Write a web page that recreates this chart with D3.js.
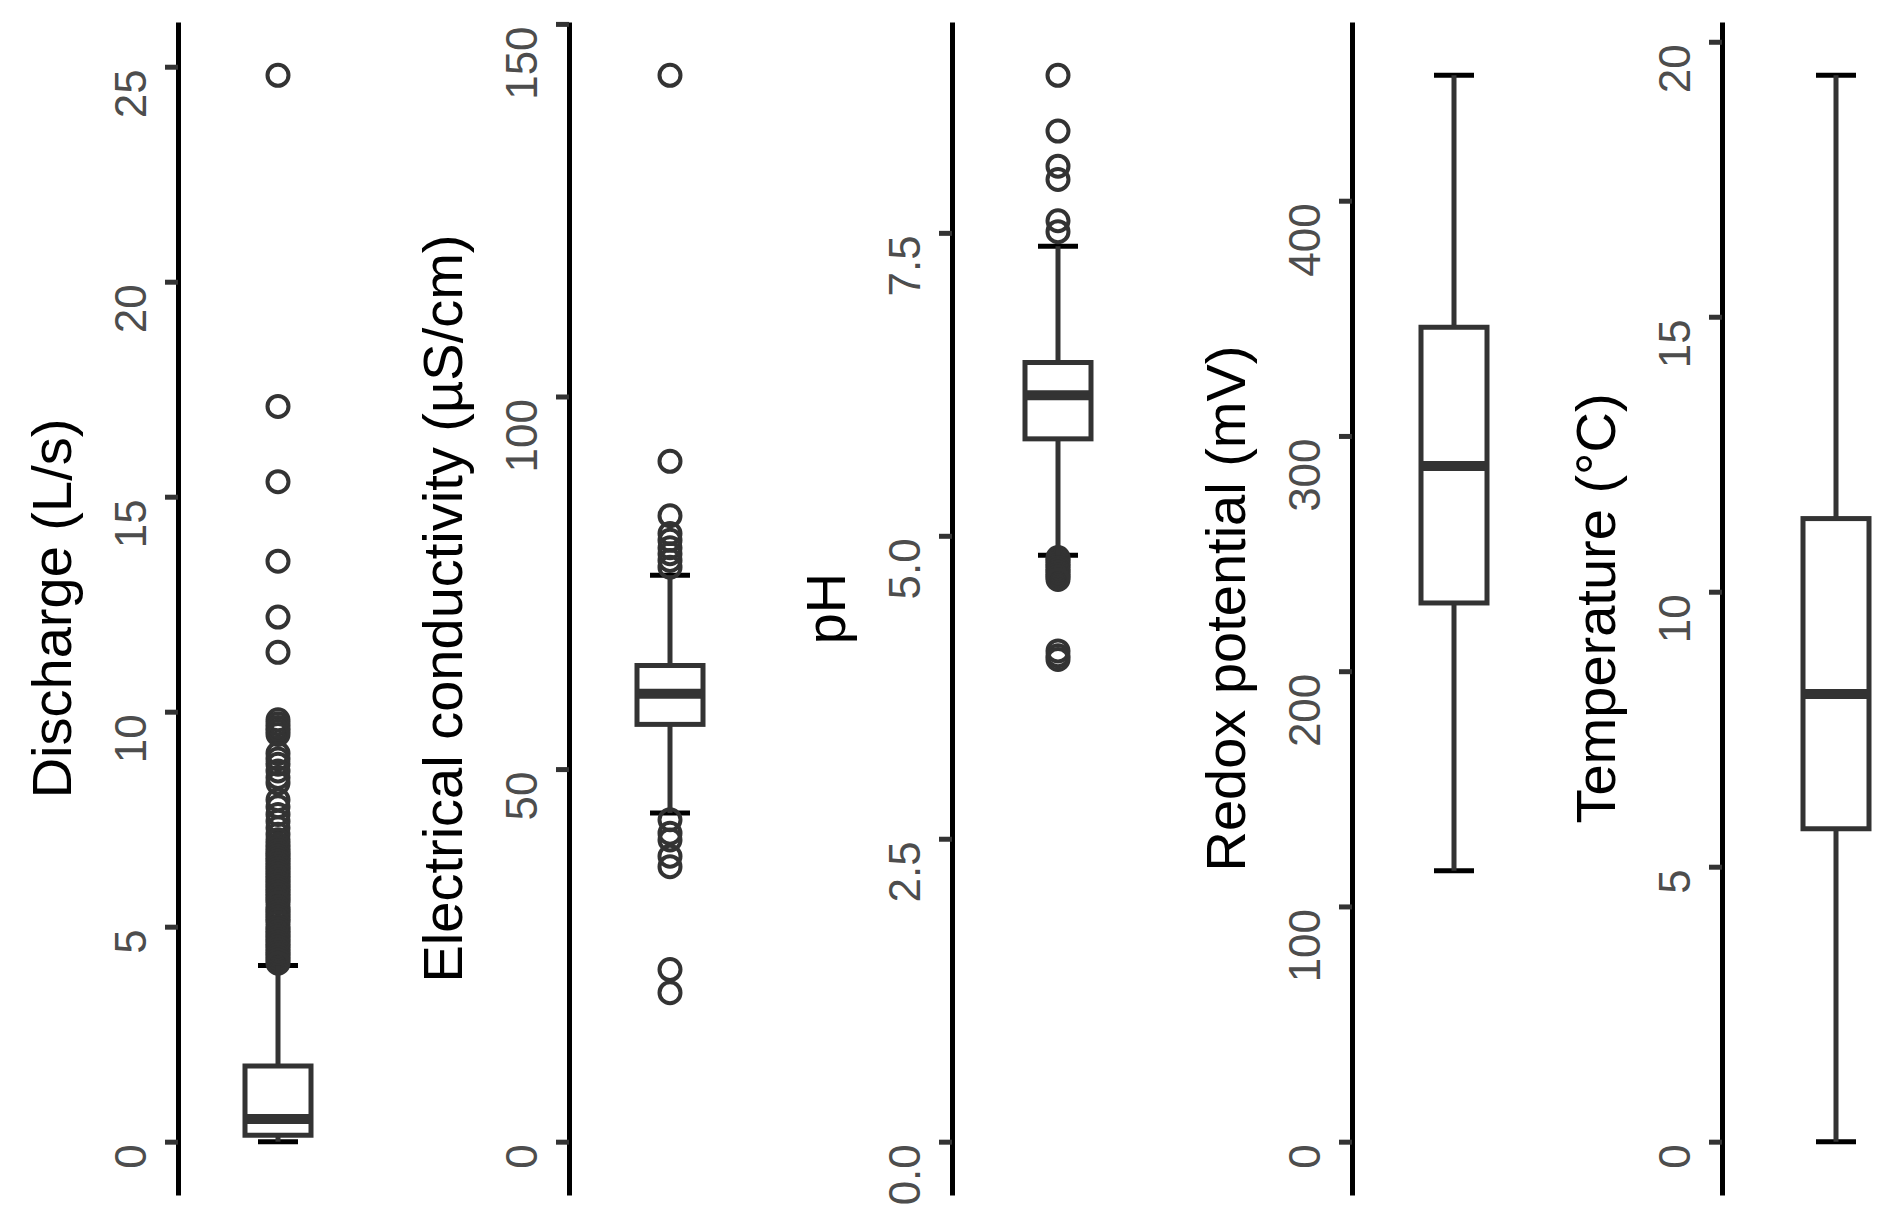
<!DOCTYPE html>
<html>
<head>
<meta charset="utf-8">
<script src="https://cdn.jsdelivr.net/npm/d3@7"></script>
<style>
  body { margin: 0; background: #fff; }
  svg { display: block; font-family: "Liberation Sans", Arial, sans-serif; }
</style>
</head>
<body>
<div id="chart"></div>
<script>
var width = 1892,
    height = 1222,
    top_y = 22,
    bottom_y = 1195;

// one box per panel
var titles = ["Discharge (L/s)", "Electrical conductivity (µS/cm)", "pH", "Redox potential (mV)", "Temperature (°C)"];
var lower_whisker = [0.0, 44.1, 4.84, 115.2, 0.0];
var q1 = [0.15, 56.0, 5.80, 229.0, 5.69];
var median = [0.53, 60.1, 6.16, 287.2, 8.14];
var q3 = [1.76, 63.9, 6.43, 346.2, 11.33];
var upper_whisker = [4.1, 76.0, 7.39, 453.3, 19.39];

var discharge_outliers = [24.8, 17.1, 15.35, 13.5, 12.2, 11.38,
    9.81, 9.72, 9.63, 9.55, 9.47, 9.03, 8.9, 8.78, 8.62, 8.47, 8.34,
    7.95, 7.79, 7.61, 7.45, 7.3, 7.15, 7.02, 6.92, 6.84,
    6.76, 6.7, 6.64, 6.58, 6.52, 6.46, 6.4, 6.34, 6.28, 6.22, 6.16, 6.1, 6.04,
    5.98, 5.92, 5.86, 5.8, 5.74, 5.68, 5.62, 5.56, 5.46, 5.4, 5.34, 5.28, 5.22, 5.16,
    5.1, 5.0, 4.94, 4.88, 4.82, 4.76, 4.7, 4.64, 4.58, 4.52, 4.46, 4.4, 4.34,
    4.28, 4.22, 4.15];
var conductivity_outliers = [143.1, 91.3, 84.0, 81.6, 80.7, 79.7, 78.9, 78.0, 77.1,
    43.2, 41.4, 40.5, 38.3, 36.9, 23.1, 20.0];
var ph_outliers = [8.80, 8.34, 8.05, 7.94, 7.60, 7.51,
    4.82, 4.80, 4.78, 4.76, 4.74, 4.72, 4.70, 4.68, 4.66, 4.64, 4.05, 4.01, 3.98];
var redox_outliers = [];
var temperature_outliers = [];
var outliers = [discharge_outliers, conductivity_outliers, ph_outliers, redox_outliers, temperature_outliers];

var tick_values = [[0, 5, 10, 15, 20, 25], [0, 50, 100, 150], [0, 2.5, 5, 7.5], [0, 100, 200, 300, 400], [0, 5, 10, 15, 20]];
var tick_formats = ["d", "d", ".1f", "d", "d"];

// layout
var axis_x = [178, 569, 952, 1352, 1722];
var box_x = [278, 670, 1058, 1454, 1836];
var box_w = 66,
    cap_w = 40;

var svg = d3.select("#chart").append("svg")
    .attr("width", width)
    .attr("height", height);

svg.append("rect")
    .attr("width", width)
    .attr("height", height)
    .attr("fill", "#fff");

titles.forEach(function (title, i) {
    var all = outliers[i].concat([lower_whisker[i], upper_whisker[i], 0]);
    var lo = d3.min(all), hi = d3.max(all);
    var pad = (hi - lo) * 0.05;
    var y = d3.scaleLinear()
        .domain([lo - pad, hi + pad])
        .range([bottom_y, top_y]);

    var g = svg.append("g");

    // axis
    var ax = g.append("g")
        .attr("transform", "translate(" + axis_x[i] + ",0)")
        .call(d3.axisLeft(y)
            .tickValues(tick_values[i])
            .tickFormat(d3.format(tick_formats[i]))
            .tickSize(13)
            .tickSizeOuter(0));
    ax.select(".domain")
        .attr("stroke", "#000")
        .attr("stroke-width", 5);
    ax.selectAll(".tick line")
        .attr("stroke", "#333")
        .attr("stroke-width", 5);
    ax.selectAll(".tick text")
        .attr("x", null)
        .attr("dy", null)
        .attr("transform", "translate(-32,2) rotate(-90)")
        .attr("text-anchor", "end")
        .attr("fill", "#4d4d4d")
        .attr("font-size", 44)
        .attr("font-family", "Liberation Sans, Arial, sans-serif");

    // title
    g.append("text")
        .attr("transform", "translate(" + (axis_x[i] - 107) + "," + ((top_y + bottom_y) / 2) + ") rotate(-90)")
        .attr("text-anchor", "middle")
        .attr("font-size", 56)
        .attr("fill", "#000")
        .text(title);

    var cx = box_x[i];

    // whisker caps
    [lower_whisker[i], upper_whisker[i]].forEach(function (v) {
        g.append("line")
            .attr("x1", cx - cap_w / 2)
            .attr("x2", cx + cap_w / 2)
            .attr("y1", y(v))
            .attr("y2", y(v))
            .attr("stroke", "#000")
            .attr("stroke-width", 5);
    });

    // outliers
    g.selectAll("circle.out")
        .data(outliers[i])
        .enter()
        .append("circle")
        .attr("class", "out")
        .attr("cx", cx)
        .attr("cy", function (d) { return y(d); })
        .attr("r", 10.5)
        .attr("fill", "none")
        .attr("stroke", "#333")
        .attr("stroke-width", 4);

    // whiskers
    g.append("line")
        .attr("x1", cx).attr("x2", cx)
        .attr("y1", y(q3[i])).attr("y2", y(upper_whisker[i]))
        .attr("stroke", "#333").attr("stroke-width", 5);
    g.append("line")
        .attr("x1", cx).attr("x2", cx)
        .attr("y1", y(q1[i])).attr("y2", y(lower_whisker[i]))
        .attr("stroke", "#333").attr("stroke-width", 5);

    // box
    g.append("rect")
        .attr("x", cx - box_w / 2)
        .attr("width", box_w)
        .attr("y", y(q3[i]))
        .attr("height", y(q1[i]) - y(q3[i]))
        .attr("fill", "#fff")
        .attr("stroke", "#333")
        .attr("stroke-width", 5);
    g.append("line")
        .attr("x1", cx - box_w / 2).attr("x2", cx + box_w / 2)
        .attr("y1", y(median[i])).attr("y2", y(median[i]))
        .attr("stroke", "#333").attr("stroke-width", 10);
});
</script>
</body>
</html>
